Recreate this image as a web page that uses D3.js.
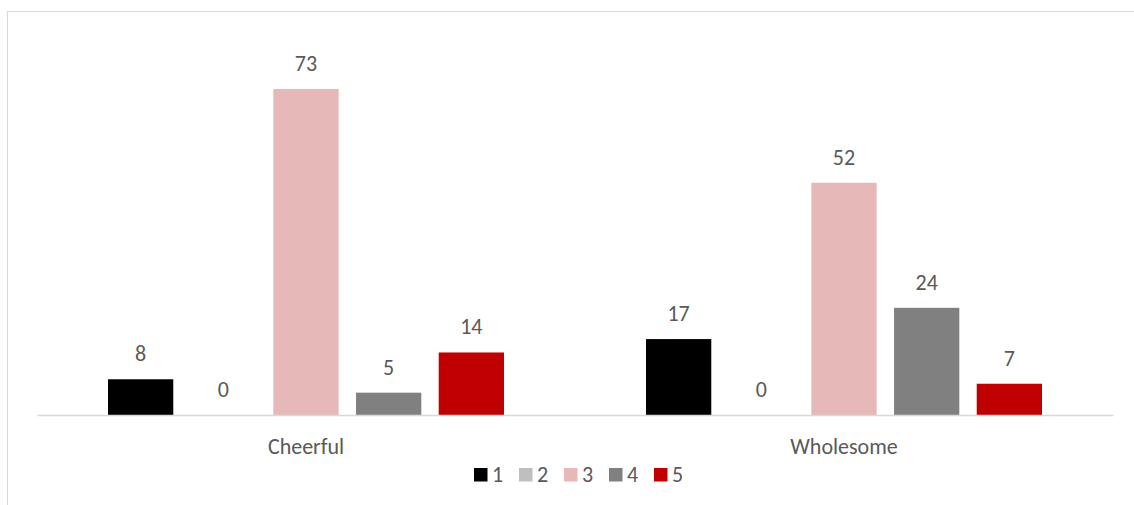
<!DOCTYPE html>
<html><head><meta charset="utf-8">
<script src="https://cdn.jsdelivr.net/npm/d3@7"></script>
<style>body{margin:0;background:#fff}svg{display:block}text{font-family:Carlito,Calibri,Lato,"Noto Sans",sans-serif}</style>
</head><body>
<svg id="c" width="1134" height="505"></svg>
<script>
const categories = ["Cheerful", "Wholesome"];
const seriesNames = ["1", "2", "3", "4", "5"];
const values1 = [8, 17];
const values2 = [0, 0];
const values3 = [73, 52];
const values4 = [5, 24];
const values5 = [14, 7];
const colors = ["#000000", "#BFBFBF", "#E6B8B7", "#808080", "#C00000"];

const FONT = 'Carlito,Calibri,Lato,"Noto Sans",sans-serif';
const seriesValues = [values1, values2, values3, values4, values5];
const svg = d3.select("#c");
// chart border
svg.append("rect").attr("x", 7.5).attr("y", 11.5).attr("width", 1140).attr("height", 520)
  .attr("fill", "none").attr("stroke", "#D9D9D9").attr("stroke-width", 1);

const x0 = d3.scaleBand().domain(categories).range([37, 1113]).paddingInner(0).paddingOuter(0);
const groupW = 396;
const x1 = d3.scaleBand().domain(seriesNames).range([0, groupW]).paddingInner(0.2105).paddingOuter(0);
const y = d3.scaleLinear().domain([0, 80]).range([415, 57.7]);

const groups = svg.selectAll("g.grp").data(categories).enter().append("g")
  .attr("transform", c => `translate(${x0(c) + (x0.bandwidth() - groupW) / 2},0)`);

groups.each(function(c, ci) {
  const g = d3.select(this);
  seriesNames.forEach((s, si) => {
    const v = seriesValues[si][ci];
    g.append("rect").attr("x", x1(s)).attr("width", x1.bandwidth())
      .attr("y", y(v)).attr("height", y(0) - y(v)).attr("fill", colors[si]);
    g.append("text").attr("x", x1(s) + x1.bandwidth() / 2).attr("y", y(v) - 18)
      .attr("text-anchor", "middle").attr("font-size", 22).attr("fill", "#595959").text(v);
  });
});

// axis
const axis = svg.append("g").attr("transform", `translate(0,${y(0)})`)
  .call(d3.axisBottom(x0).tickSize(0).tickPadding(0));
axis.select(".domain").attr("stroke", "#D9D9D9").attr("stroke-width", 1.5);
axis.selectAll("text").attr("font-size", 22).attr("fill", "#595959").attr("dy", null)
  .attr("y", 39).style("font-family", FONT);

// legend
const leg = svg.append("g").attr("transform", "translate(474,468)");
seriesNames.forEach((s, i) => {
  const g = leg.append("g").attr("transform", `translate(${i * 45},0)`);
  g.append("rect").attr("width", 13.5).attr("height", 13.5).attr("fill", colors[i]);
  g.append("text").attr("x", 18).attr("y", 14).attr("font-size", 22).attr("fill", "#595959").text(s);
});
</script>
</body></html>
